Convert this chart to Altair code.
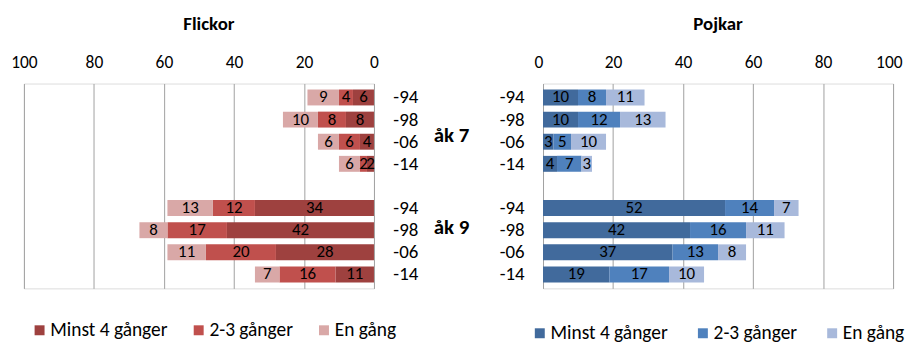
import altair as alt
import pandas as pd

periods = ["-94", "-98", "-06", "-14"]
grades = ["åk 7", "åk 9"]
categories = ["Minst 4 gånger", "2-3 gånger", "En gång"]

flickor_ak7_minst4 = [6, 8, 4, 2]
flickor_ak7_2_3 = [4, 8, 6, 2]
flickor_ak7_en = [9, 10, 6, 6]
flickor_ak9_minst4 = [34, 42, 28, 11]
flickor_ak9_2_3 = [12, 17, 20, 16]
flickor_ak9_en = [13, 8, 11, 7]

pojkar_ak7_minst4 = [10, 10, 3, 4]
pojkar_ak7_2_3 = [8, 12, 5, 7]
pojkar_ak7_en = [11, 13, 10, 3]
pojkar_ak9_minst4 = [52, 42, 37, 19]
pojkar_ak9_2_3 = [14, 16, 13, 17]
pojkar_ak9_en = [7, 11, 8, 10]

flickor_colors = ["#9E413F", "#C0504D", "#D9A8A7"]
pojkar_colors = ["#416A9C", "#4F81BD", "#A8B9DB"]

FONT = "Carlito, Calibri, Lato, sans-serif"

row_domain = [f"åk 7|{p}" for p in periods] + ["gap"] + [f"åk 9|{p}" for p in periods]


def build(series):
    rows = []
    for grade, per_cat in series.items():
        for ci, (cat, vals) in enumerate(zip(categories, per_cat)):
            for p, v in zip(periods, vals):
                rows.append({"row": f"{grade}|{p}", "cat": cat, "ord": ci, "value": v})
    return pd.DataFrame(rows)


flickor_df = build({
    "åk 7": [flickor_ak7_minst4, flickor_ak7_2_3, flickor_ak7_en],
    "åk 9": [flickor_ak9_minst4, flickor_ak9_2_3, flickor_ak9_en],
})
pojkar_df = build({
    "åk 7": [pojkar_ak7_minst4, pojkar_ak7_2_3, pojkar_ak7_en],
    "åk 9": [pojkar_ak9_minst4, pojkar_ak9_2_3, pojkar_ak9_en],
})

W, H = 352, 206
label_expr = "indexof(datum.value, '|') >= 0 ? split(datum.value, '|')[1] : ''"


def panel(df, title, colors, reverse, y_orient, lx, ly, tdx, colpad, flush):
    base = alt.Chart(df).transform_stack(
        stack="value", as_=["v0", "v1"], groupby=["row"], sort=[alt.SortField("ord")]
    ).transform_calculate(mid="(datum.v0 + datum.v1) / 2")
    xscale = alt.Scale(domain=[0, 100], reverse=reverse, nice=False)
    yscale = alt.Scale(domain=row_domain, paddingInner=0.28, paddingOuter=0.27)
    flush_opts = dict(labelFlush=True, labelFlushOffset=9) if flush else dict(labelFlush=False)
    bars = base.mark_bar().encode(
        x=alt.X("v0:Q", scale=xscale, title=None,
                axis=alt.Axis(orient="top", values=[0, 20, 40, 60, 80, 100], grid=True,
                              gridColor="#A0A0A0", domain=False, ticks=False,
                              labelOverlap=False, **flush_opts,
                              labelPadding=12, labelFontSize=17.5, labelFont=FONT,
                              labelColor="#000000")),
        x2="v1:Q",
        y=alt.Y("row:N", scale=yscale, title=None,
                axis=alt.Axis(orient=y_orient, labelExpr=label_expr, domain=False, ticks=False,
                              labelPadding=19, labelFontSize=19, labelFont=FONT,
                              labelColor="#000000")),
        color=alt.Color("cat:N", scale=alt.Scale(domain=categories, range=colors),
                        legend=alt.Legend(orient="none", legendX=lx, legendY=ly,
                                          direction="horizontal", title=None,
                                          symbolType="square", symbolSize=100,
                                          symbolStrokeWidth=0, labelFontSize=19.5,
                                          labelFont=FONT, labelOffset=1, columnPadding=colpad,
                                          padding=0, labelColor="#000000")),
    )
    text = base.mark_text(fontSize=17, font=FONT, color="#000000").encode(
        x=alt.X("mid:Q", scale=xscale),
        y=alt.Y("row:N", scale=yscale),
        text="value:Q",
    )
    return alt.layer(bars, text).properties(
        width=W, height=H,
        title=alt.Title(title, fontSize=19, font=FONT, fontWeight="bold", dx=tdx, offset=20),
    )


left = panel(flickor_df, "Flickor", flickor_colors, True, "right", 6, 238, 10, 21, False)

grade_df = pd.DataFrame({"label": grades, "row": ["åk 7|-06", "åk 9|-98"]})
g7 = alt.Chart(grade_df.iloc[[0]]).mark_text(fontSize=21, font=FONT, fontWeight="bold",
                                             dy=-6, color="#000000").encode(
    x=alt.value(W + 78), y=alt.Y("row:N", scale=alt.Scale(domain=row_domain)), text="label:N")
g9 = alt.Chart(grade_df.iloc[[1]]).mark_text(fontSize=21, font=FONT, fontWeight="bold",
                                             dy=-2, color="#000000").encode(
    x=alt.value(W + 78), y=alt.Y("row:N", scale=alt.Scale(domain=row_domain)), text="label:N")
left = alt.layer(left, g7, g9)

right = panel(pojkar_df, "Pojkar", pojkar_colors, False, "left", -13, 241, 0, 25, True)

chart = alt.hconcat(left, right).properties(
    bounds="flush", spacing=170,
    padding={"left": 2, "top": 5, "right": 0, "bottom": 5},
).resolve_scale(
    color="independent", x="independent", y="independent"
).configure_view(strokeWidth=0).configure(font=FONT)

chart.save("out.html", embed_options={"renderer": "svg", "actions": False})
